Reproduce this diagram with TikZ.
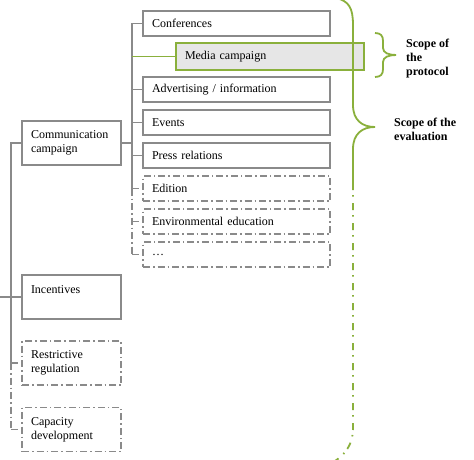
\documentclass[tikz,border=0pt]{standalone}
\usepackage{fontspec}
\setmainfont{Liberation Serif}
\definecolor{boxgray}{HTML}{8A8A8A}
\definecolor{scopegreen}{HTML}{8AB03C}
\definecolor{mediafill}{HTML}{E6E6E6}
\begin{document}
\begin{tikzpicture}[x=1pt,y=-1pt,
  font=\fontsize{12}{14}\selectfont,
  conn/.style={draw=boxgray,line width=1.8pt},
  dashdotline/.style={dash pattern=on 7pt off 3pt on 1.5pt off 3pt},
  box/.style={draw=boxgray,line width=1.8pt,rectangle,inner xsep=9pt,inner ysep=1pt,align=left},
  boxtwo/.style={box,text width=169pt,minimum height=25pt},
  boxone/.style={box,text width=81pt,minimum height=44pt},
  dbox/.style={dashdotline},
  greenline/.style={draw=scopegreen,line width=1.8pt},
  greendash/.style={greenline,dash pattern=on 7pt off 5pt on 1.5pt off 6.5pt},
  scopelabel/.style={font=\fontsize{12}{14}\selectfont\bfseries,align=left,inner sep=0pt,anchor=west}]
\useasboundingbox (0,0) rectangle (474,460);
\fill[white] (0,0) rectangle (474,460);
% column 2 boxes
\node[boxtwo] (conf) at (236.5,23.5) {Conferences};
\node[box,draw=scopegreen,fill=mediafill,text width=170pt,minimum height=27pt] (media) at (270,56.5) {Media campaign};
\node[boxtwo] (adv) at (236.5,89.5) {Advertising / information};
\node[boxtwo] (events) at (236.5,122.5) {Events};
\node[boxtwo] (press) at (236.5,155.5) {Press relations};
\node[boxtwo,dbox] (edition) at (236.5,188.5) {Edition};
\node[boxtwo,dbox] (envedu) at (236.5,221.5) {Environmental education};
\node[boxtwo,dbox] (dots) at (236.5,254.5) {\dots};
% column 1 boxes
\node[boxone] (comm) at (71.5,143) {Communication\\campaign};
\node[boxone] (incent) at (71.5,297) {Incentives\\\mbox{}};
\node[boxone,dbox] (restr) at (71.5,363) {Restrictive\\regulation};
\node[boxone,dbox] (capac) at (71.5,429.5) {Capacity\\development};
% trunk x positions
\coordinate (c2x) at (132,0);
\coordinate (c1x) at (11,0);
\coordinate (root) at (0,297);
% column 2 connectors
\draw[conn] (conf.west) -- (conf.west -| c2x) -- (edition.west -| c2x);
\draw[conn,dashdotline] (edition.west -| c2x) -- (dots.west -| c2x);
\draw[conn] (adv.west) -- (adv.west -| c2x);
\draw[conn] (events.west) -- (events.west -| c2x);
\draw[conn] (press.west) -- (press.west -| c2x);
\draw[conn,dashdotline] (edition.west -| c2x) -- (edition.west);
\draw[conn,dashdotline] (envedu.west -| c2x) -- (envedu.west);
\draw[conn,dashdotline] (dots.west -| c2x) -- (dots.west);
\draw[greenline] (media.west -| c2x) -- (media.west);
\draw[conn] (comm.east) -- (comm.east -| c2x);
% column 1 connectors
\draw[conn] (comm.west) -- (comm.west -| c1x) -- (restr.west -| c1x);
\draw[conn] (root) -- (incent.west);
\draw[conn,dashdotline] (restr.west -| c1x) -- (capac.west -| c1x);
\draw[conn,dashdotline] (restr.west -| c1x) -- (restr.west);
\draw[conn,dashdotline] (capac.west -| c1x) -- (capac.west);
% big brace (scope of the evaluation)
\coordinate (bigtip) at (375,127);
\coordinate (bigsplit) at (353,183);
\draw[greenline] (336,-2) .. controls (349,1) and (353,8) .. (353,25) -- (353,105)
  .. controls (353,120) and (362,127) .. (bigtip)
  .. controls (362,127) and (353,134) .. (353,149) -- (bigsplit);
\draw[greendash] (bigsplit) -- (353,428) .. controls (353,445) and (345,455) .. (332,463);
% small brace (scope of the protocol)
\coordinate (smalltip) at (396,55);
\draw[greenline] (375,33) .. controls (381,33) and (383,36) .. (383,41) -- (383,48)
  .. controls (383,53) and (389,55) .. (smalltip)
  .. controls (389,55) and (383,57) .. (383,62) -- (383,69)
  .. controls (383,74) and (381,77) .. (375,77);
% labels
\node[scopelabel] (protlabel) at (406,59) {Scope of\\the\\protocol};
\node[scopelabel] (evallabel) at (394,129.5) {Scope of the\\evaluation};
\end{tikzpicture}
\end{document}
